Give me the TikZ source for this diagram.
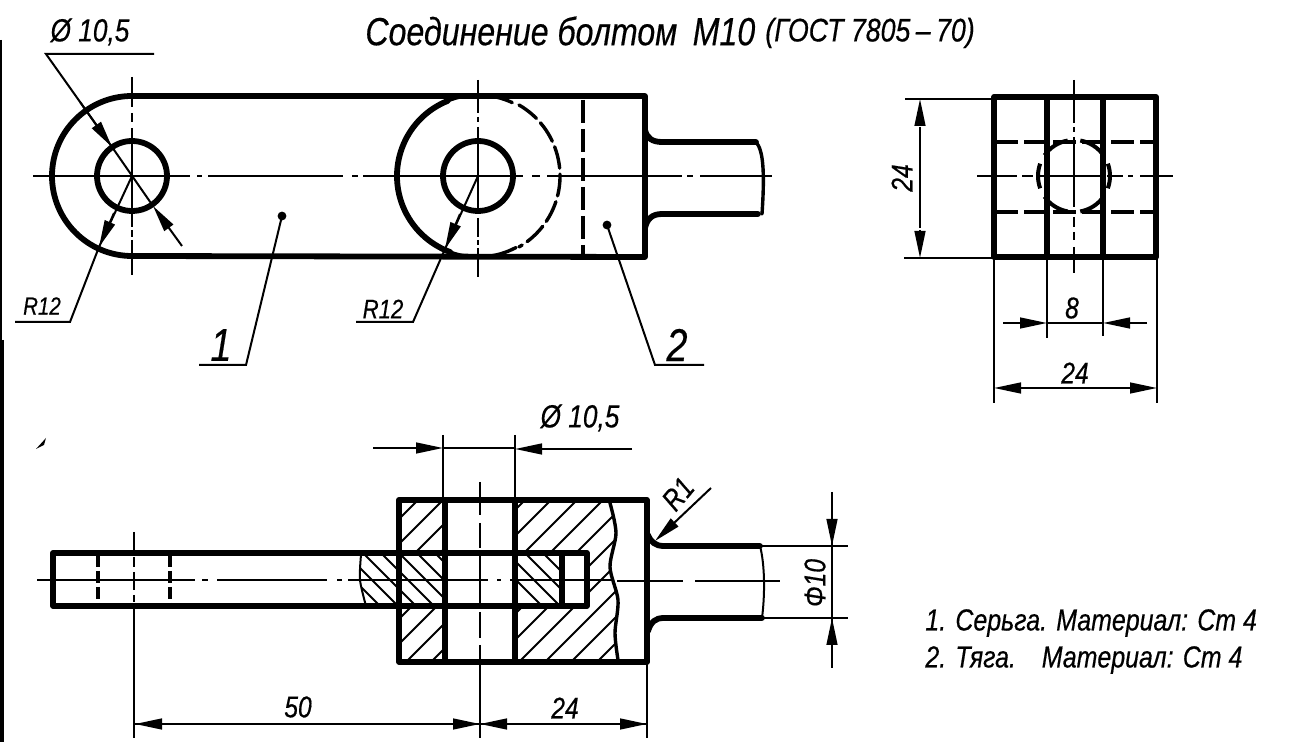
\documentclass[tikz,border=0pt]{standalone}
\usepackage{fontspec}
\setmainfont{Liberation Sans}[FakeStretch=0.82,ItalicFeatures={FakeBold=0.4}]
\usetikzlibrary{arrows.meta,calc}
\tikzset{
  x=0.5pt,y=-0.5pt,
  thick line/.style={line width=2.9pt,line join=round,line cap=round},
  mid line/.style={line width=1.7pt,line join=round,line cap=round},
  thin line/.style={line width=1pt},
  centre line/.style={line width=1.2pt},
  hidden line/.style={line width=1.6pt,dash pattern=on 11.5pt off 3pt},
  hatch line/.style={line width=1pt},
  dim arrow/.style={line width=1pt,-{Triangle[length=13.5pt,width=5.4pt]}},
  lab/.style={inner sep=0pt,font=\itshape\fontsize{15}{15}\selectfont},
  biglab/.style={inner sep=0pt,font=\itshape\fontsize{23}{23}\selectfont},
  txtlab/.style={inner sep=0pt,anchor=west,font=\itshape\fontsize{15.2}{16}\selectfont},
}
\begin{document}
\begin{tikzpicture}
\useasboundingbox (0,0) rectangle (1296,742);
\fill[white] (0,0) rectangle (1296,742);

% ---- named points
\coordinate (c1) at (132,176);
\coordinate (c2) at (478,176);
\coordinate (c3) at (1074,176);

% ---- page edge and scan marks
\draw[line width=1pt] (1,40) -- (1,340);
\draw[line width=2pt] (2,340) -- (2,742);
\fill (36,449) -- (46,438) -- (44,445) -- cycle;

% ---- title
\node[anchor=west,inner sep=0pt,font=\itshape\fontsize{19.6}{20}\selectfont] (title) at (365,31) {Соединение болтом\, М10};
\node[anchor=west,inner sep=0pt,font=\itshape\fontsize{16.3}{16}\selectfont] (gost) at (765,33) {(ГОСТ 7805\,–\,70)};

% ======== top view
\draw[thick line] (645,96) -- (132,96) arc[start angle=90,end angle=270,radius=40pt] -- (645,257) -- cycle;
\draw[thick line] (c1) circle[radius=17.5pt];
\draw[thick line] (c2) circle[radius=17.5pt];
\draw[thick line] (c2) ++(112:40.5pt) arc[start angle=112,end angle=250,radius=40.5pt];
\draw[mid line] (c2) ++(65:40.5pt) arc[start angle=65,end angle=112,radius=40.5pt];
\draw[mid line] (c2) ++(250:40.5pt) arc[start angle=250,end angle=298,radius=40.5pt];
\draw[mid line,dash pattern=on 11pt off 3pt] (c2) ++(60:41pt) arc[start angle=60,end angle=-60,radius=41pt];
\draw[hidden line] (583,100) -- (583,255);
% stem
\draw[thick line] (645,130) .. controls (647,138) and (652,142) .. (662,142) -- (756,142);
\draw[thick line] (645,228) .. controls (647,219) and (652,214) .. (662,214) -- (758,214);
\draw[mid line] (756,142) .. controls (763,150) and (765,170) .. (762,214);
% centre lines
\draw[centre line]
  (33,176) -- (190,176) (197,176) -- (202,176) (208,176) -- (343,176)
  (352,176) -- (358,176) (363,176) -- (523,176) (532,176) -- (540,176)
  (547,176) -- (682,176) (687,176) -- (693,176) (700,176) -- (772,176);
\draw[centre line]
  (132,77) -- (132,107) (132,113) -- (132,122) (132,128) -- (132,208)
  (132,213) -- (132,227) (132,230) -- (132,237) (132,240) -- (132,275);
\draw[centre line]
  (478,80) -- (478,113) (478,117) -- (478,122) (478,127) -- (478,213)
  (478,218) -- (478,237) (478,240) -- (478,245) (478,248) -- (478,277);
% diameter leader
\coordinate (dA) at (46,54);
\coordinate (dB) at (154,54);
\coordinate (dT1) at (112,147);
\coordinate (dT2) at (153,206);
\coordinate (dE) at (182,246);
\draw[thin line] (dB) -- (dA) -- (dT1);
\draw[dim arrow] ($(dA)!0.52!(dT1)$) -- (dT1);
\draw[thin line] (dT1) -- (dT2);
\draw[dim arrow] (dE) -- (dT2);
\node[lab,font=\itshape\fontsize{16}{16}\selectfont] (d105) at (90,32) {Ø 10,5};
% R12 left
\coordinate (rA) at (15,322);
\coordinate (rB) at (70,322);
\coordinate (rT) at (99,247);
\draw[thin line] (rA) -- (rB) -- (rT);
\draw[thin line] (c1) -- (rT);
\draw[dim arrow] (114,213) -- (rT);
\node[lab,font=\itshape\fontsize{12.5}{12}\selectfont] (r12a) at (42,306) {R12};
% R12 middle
\coordinate (sA) at (356,322);
\coordinate (sB) at (413,322);
\coordinate (sT) at (445,249);
\draw[thin line] (sA) -- (sB) -- (sT);
\draw[thin line] (c2) -- (sT);
\draw[dim arrow] (460,214) -- (sT);
\node[lab,font=\itshape\fontsize{13.5}{13}\selectfont] (r12b) at (383,309) {R12};
% part leaders
\coordinate (p1a) at (199,365);
\coordinate (p1b) at (246,365);
\coordinate (p1c) at (282,216);
\draw[thin line] (p1a) -- (p1b) -- (p1c);
\fill (p1c) circle[radius=2.2pt];
\node[biglab] (n1) at (221,345) {1};
\coordinate (p2a) at (704,365);
\coordinate (p2b) at (655,365);
\coordinate (p2c) at (607,225);
\draw[thin line] (p2a) -- (p2b) -- (p2c);
\fill (p2c) circle[radius=2.2pt];
\node[biglab] (n2) at (677,345) {2};

% ======== side view
\draw[thick line] (994,97) rectangle (1156,257);
\draw[thick line] (1047,97) -- (1047,257) (1103,97) -- (1103,257);
\draw[hidden line] (995,142) -- (1155,142) (995,212) -- (1155,212);
\foreach \a/\b in {160/200,-20/20,35/80,100/145,215/260,280/325}
  \draw[line width=2pt] (c3) ++(\a:18pt) arc[start angle=\a,end angle=\b,radius=18pt];
\draw[centre line]
  (977,176) -- (1017,176) (1022,176) -- (1033,176) (1038,176) -- (1100,176)
  (1107,176) -- (1123,176) (1128,176) -- (1133,176) (1140,176) -- (1173,176);
\draw[centre line]
  (1074,80) -- (1074,123) (1074,127) -- (1074,132) (1074,137) -- (1074,207)
  (1074,217) -- (1074,227) (1074,232) -- (1074,240) (1074,247) -- (1074,273);
% dims
\draw[thin line] (905,99) -- (993,99) (904,258) -- (993,258);
\draw[thin line] (920,127) -- (920,228);
\draw[dim arrow] (920,125) -- (920,99);
\draw[dim arrow] (920,230) -- (920,258);
\node[lab,rotate=90] (v24) at (902,178) {24};
\draw[thin line] (1047,257) -- (1047,338) (1103,257) -- (1103,336);
\draw[thin line] (1047,323) -- (1103,323);
\draw[dim arrow] (1003,323) -- (1047,323);
\draw[dim arrow] (1147,323) -- (1103,323);
\node[lab] (d8) at (1072,308) {8};
\draw[thin line] (994,257) -- (994,403) (1157,257) -- (1157,403);
\draw[thin line] (1022,388) -- (1130,388);
\draw[dim arrow] (1024,388) -- (994,388);
\draw[dim arrow] (1128,388) -- (1157,388);
\node[lab] (h24) at (1075,373) {24};

% ======== section view: hatching
\begin{scope}
  \clip (399,500) rectangle (445,553);
  \foreach \s in {893,918,...,1043}
    \draw[hatch line] (\s-560,560) -- (\s-390,390);
\end{scope}
\begin{scope}
  \clip (399,607) rectangle (445,662);
  \foreach \s in {993,1018,...,1143}
    \draw[hatch line] (\s-670,670) -- (\s-600,600);
\end{scope}
\begin{scope}
  \clip (515,500) -- (611,500)
    -- plot[smooth] coordinates {(611,503) (616,533) (610,567) (618,600) (615,633) (618,660)}
    -- (515,662) -- (515,607) -- (587,607) -- (587,553) -- (515,553) -- cycle;
  \foreach \s in {1025,1051,...,1350}
    \draw[hatch line] (\s-700,700) -- (\s-400,400);
\end{scope}
\begin{scope}
  \clip plot[smooth] coordinates {(361,555) (360,580) (366,606)} -- (445,607) -- (445,553) -- cycle;
  \foreach \s in {-226,-208,...,-100}
    \draw[hatch line] (\s+500,500) -- (\s+650,650);
\end{scope}
\begin{scope}
  \clip (515,553) rectangle (562,607);
  \foreach \s in {-64,-46,...,20}
    \draw[hatch line] (\s+500,500) -- (\s+650,650);
\end{scope}

% section view: outlines
\draw[thick line] (587,553) -- (53,553) -- (53,606) -- (587,606) -- cycle;
\draw[thick line] (399,500) rectangle (647,662);
\draw[thick line] (445,500) -- (445,662) (515,500) -- (515,662);
\draw[thick line] (562,553) -- (562,606);
% break lines
\draw[mid line] plot[smooth] coordinates {(610,503) (616,533) (610,567) (618,600) (615,633) (618,660)};
\draw[thin line] plot[smooth] coordinates {(361,555) (360,580) (366,606)};
% hidden lines in the rod
\draw[hidden line,dash pattern=on 6pt off 2pt] (98,555) -- (98,605);
\draw[hidden line,dash pattern=on 6pt off 2pt] (170,555) -- (170,605);
% stem
\draw[thick line] (648,535) .. controls (651,542) and (655,546) .. (664,546) -- (760,546);
\draw[thick line] (648,631) .. controls (651,622) and (655,618) .. (664,618) -- (762,618);
\draw[thin line] (760,546) .. controls (765,565) and (765,595) .. (762,618);
% centre lines
\draw[centre line]
  (37,580) -- (195,580) (202,580) -- (208,580) (217,580) -- (327,580)
  (337,580) -- (342,580) (348,580) -- (488,580) (497,580) -- (501,580)
  (510,580) -- (612,580) (617,581) -- (683,581) (695,581) -- (780,581);
\draw[centre line] (134,532) -- (134,553) (134,557) -- (134,567) (134,572) -- (134,590) (134,595) -- (134,602) (134,606) -- (134,738);
\draw[centre line]
  (480,482) -- (480,515) (480,523) -- (480,548) (480,553) -- (480,603)
  (480,612) -- (480,638) (480,645) -- (480,738);
% dims
\draw[thin line] (443,435) -- (443,500) (515,435) -- (515,500);
\draw[thin line] (443,448) -- (515,448);
\draw[dim arrow] (373,448) -- (443,448);
\draw[dim arrow] (632,449) -- (515,449);
\node[lab,font=\itshape\fontsize{16}{16}\selectfont] (d105b) at (580,418) {Ø 10,5};
\coordinate (r1a) at (711,488);
\coordinate (r1b) at (655,541);
\draw[dim arrow] (r1a) -- (r1b);
\node[lab,rotate=50] (r1) at (678,494) {R1};
\draw[thin line] (762,546) -- (848,546) (764,618) -- (848,618);
\draw[thin line] (832,492) -- (832,668);
\draw[dim arrow] (832,518) -- (832,546);
\draw[dim arrow] (832,646) -- (832,618);
\node[lab,rotate=90] (phi) at (815,583) {Φ10};
\draw[thin line] (647,662) -- (647,738);
\draw[thin line] (134,724) -- (647,724);
\draw[dim arrow] (165,724) -- (135,724);
\draw[dim arrow] (450,724) -- (480,724);
\draw[dim arrow] (512,724) -- (480,724);
\draw[dim arrow] (618,724) -- (647,724);
\node[lab] (l50) at (298,707) {50};
\node[lab] (l24) at (565,708) {24};

% ---- parts list
\node[txtlab] (t1) at (925,623) {1. Серьга. Материал: Ст 4};
\node[txtlab] (t2) at (925,660) {2. Тяга.\hspace{6pt}\ \ Материал: Ст 4};
\end{tikzpicture}
\end{document}
